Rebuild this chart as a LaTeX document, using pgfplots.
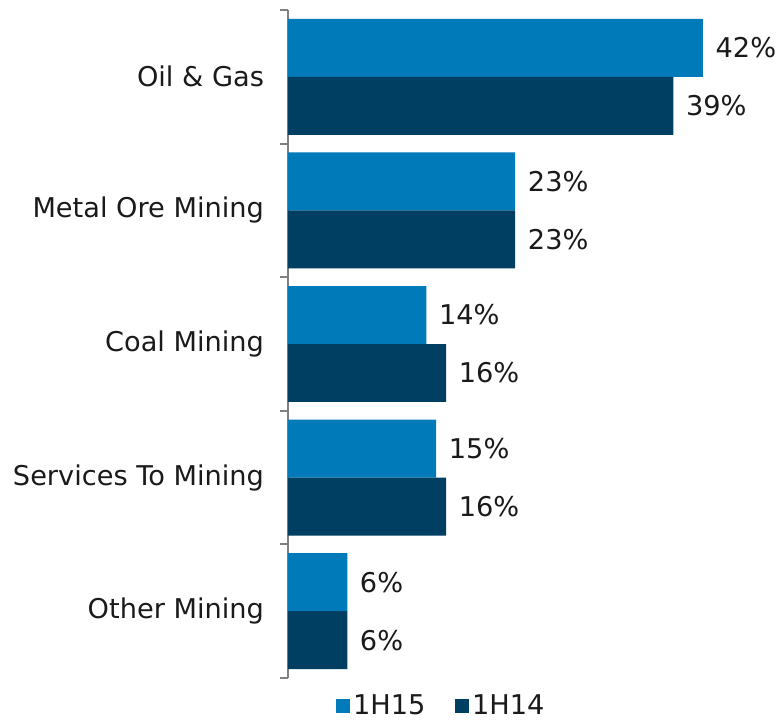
\documentclass[border=0pt]{standalone}
\usepackage{pgfplots}
\pgfplotsset{compat=1.18}
\usepackage{fontspec}
\setmainfont{DejaVu Sans}
\definecolor{LightBar}{RGB}{0,122,185}
\definecolor{DarkBar}{RGB}{0,63,98}
\definecolor{AxisGray}{RGB}{128,128,128}
\definecolor{TextDark}{RGB}{26,26,26}

\pgfplotstableread{
cat h15 h14
0 42 39
1 23 23
2 14 16
3 15 16
4 6 6
}\mining

\begin{document}
\begin{tikzpicture}
\begin{axis}[
    scale only axis,
    width=371.25pt, height=501pt,
    xbar, bar width=0.434,
    y dir=reverse,
    xmin=0, xmax=50.1,
    ymin=-0.5, ymax=4.5,
    axis x line=none,
    axis y line=left,
    axis line style={-, AxisGray, line width=1.5pt},
    ytick={0,...,4},
    yticklabels={Oil \& Gas, Metal Ore Mining, Coal Mining, Services To Mining, Other Mining},
    minor ytick={-0.5,0.5,...,4.5},
    major tick length=0pt,
    minor tick length=6pt,
    tick align=outside,
    ytick pos=left,
    minor tick style={AxisGray, line width=1.5pt},
    yticklabel style={font=\fontsize{20.4}{24}\selectfont, text=TextDark, xshift=-14.5pt},
    /pgf/number format/assume math mode=true,
    nodes near coords={\pgfmathprintnumber{\pgfplotspointmeta}\%},
    every node near coord/.append style={font=\fontsize{20.4}{24}\selectfont, text=TextDark, xshift=6pt},
    legend style={draw=none, at={(0.31,-0.042)}, anchor=center,
        legend columns=2, font=\fontsize{20.4}{24}\selectfont, text=TextDark,
        /tikz/every even column/.append style={column sep=20pt}},
    legend image code/.code={\fill[#1,draw=none] (0pt,-5.5pt) rectangle (11pt,5.5pt);},
    clip=false,
]
\addplot[fill=LightBar, draw=none, bar shift=-0.217] table[x=h15, y=cat] {\mining};
\addplot[fill=DarkBar, draw=none, bar shift=0.217] table[x=h14, y=cat] {\mining};
\legend{1H15, 1H14}
\end{axis}
\path ([xshift=-216pt, yshift=-30pt]current axis.south west) rectangle ([yshift=7.5pt]current axis.north east);
\end{tikzpicture}
\end{document}
